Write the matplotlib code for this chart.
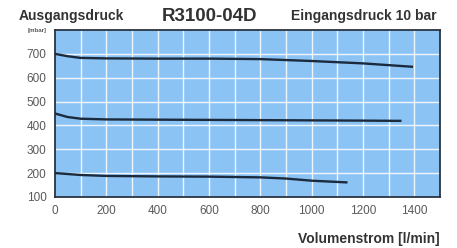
import matplotlib
matplotlib.use("Agg")
import matplotlib.pyplot as plt
import numpy as np

plt.rcParams['font.family'] = ['Liberation Sans', 'DejaVu Sans']

# Data
x_top = [0, 50, 100, 200, 400, 600, 800, 1000, 1200, 1390]
y_top = [700, 690, 683, 681, 680, 680, 678, 670, 660, 646]
x_mid = [0, 50, 100, 200, 400, 600, 800, 1000, 1200, 1345]
y_mid = [450, 435, 428, 425, 424, 423, 422, 421, 420, 419]
x_bot = [0, 50, 100, 200, 400, 600, 800, 900, 1000, 1135]
y_bot = [200, 196, 192, 188, 186, 185, 182, 177, 168, 161]

xticks = [0, 200, 400, 600, 800, 1000, 1200, 1400]
yticks = [100, 200, 300, 400, 500, 600, 700, 800]
ytick_labels = ['100', '200', '300', '400', '500', '600', '700', '[mbar]']

fig = plt.figure(figsize=(4.57, 2.48), dpi=100)
ax = fig.add_axes([0.120, 0.206, 0.843, 0.673])
ax.set_facecolor('#8cc3f5')
ax.set_xlim(0, 1500)
ax.set_ylim(100, 800)

for xv in range(100, 1500, 100):
    ax.axvline(xv, color='white', lw=1.0, alpha=0.85, zorder=1)
for yv in range(200, 800, 100):
    ax.axhline(yv, color='white', lw=1.0, alpha=0.85, zorder=1)

for xs, ys in [(x_top, y_top), (x_mid, y_mid), (x_bot, y_bot)]:
    ax.plot(xs, ys, color='#1b2b3d', lw=1.7, zorder=3)

ax.set_xticks(xticks)
ax.set_yticks(yticks)
ax.set_yticklabels(ytick_labels)
ax.tick_params(length=0, labelsize=8.5, labelcolor='#5a5a5a', pad=6)
for lbl in ax.get_yticklabels():
    if lbl.get_text() == '[mbar]':
        lbl.set_fontsize(4.5)
        lbl.set_fontweight('bold')
for s in ax.spines.values():
    s.set_color('#2a3440')
    s.set_linewidth(1.3)

fig.text(0.04, 0.935, 'Ausgangsdruck', fontsize=10, fontweight='bold', color='#333333', va='center', ha='left')
fig.text(0.458, 0.935, 'R3100-04D', fontsize=13.5, fontweight='bold', color='#333333', va='center', ha='center')
fig.text(0.955, 0.935, 'Eingangsdruck 10 bar', fontsize=10, fontweight='bold', color='#333333', va='center', ha='right')
fig.text(0.963, 0.035, 'Volumenstrom [l/min]', fontsize=10, fontweight='bold', color='#333333', va='center', ha='right')

fig.savefig('out.png', dpi=100)
